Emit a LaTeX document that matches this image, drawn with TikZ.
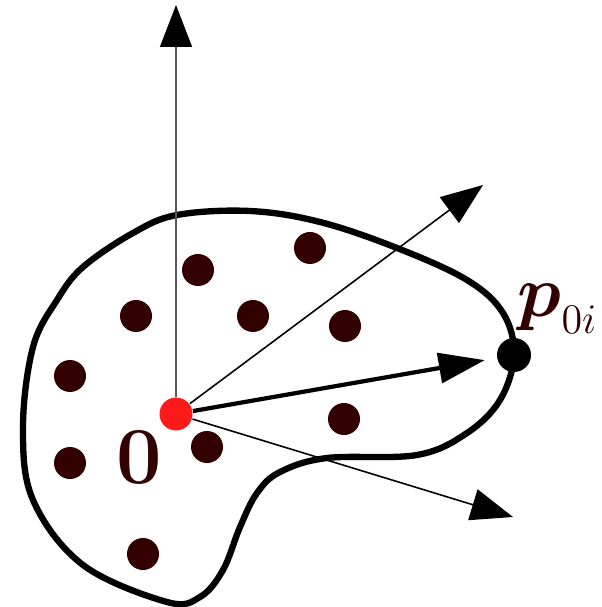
\documentclass[tikz,border=0pt]{standalone}
\usepackage{tikz}
\usetikzlibrary{positioning,arrows.meta}
\usepackage{xcolor}
\usepackage{amsmath,amssymb}
\definecolor{darkmaroon}{RGB}{51,0,0}
\definecolor{originred}{RGB}{255,26,26}

\tikzset{
  pointdot/.style={circle,fill=darkmaroon,inner sep=0pt,minimum size=0.32cm},
  axisarrow/.style={line width=0.45pt,-{Triangle[length=0.42cm,width=0.32cm,color=black]}},
  mainarrow/.style={line width=1.2pt,-{Triangle[length=0.46cm,width=0.3cm]}}
}

\begin{document}
\begin{tikzpicture}
    \useasboundingbox (0,0) rectangle (6.01,-6.07);
    % outline of the body
    \draw[line width=1.8pt] plot[smooth cycle,tension=0.6] coordinates {
      (5.14,-3.55) (5.03,-3.13) (4.67,-2.80) (3.97,-2.48) (3.20,-2.22)
      (2.50,-2.11) (1.77,-2.15) (1.33,-2.33) (0.83,-2.67) (0.57,-3.00)
      (0.33,-3.47) (0.23,-4.27) (0.33,-5.00) (0.83,-5.65) (1.67,-6.02)
      (2.00,-5.97) (2.23,-5.70) (2.40,-5.27) (2.57,-4.93) (2.80,-4.72)
      (3.27,-4.58) (4.17,-4.55) (4.67,-4.33) (5.00,-4.00)};
    % points of the body
    \foreach \px/\py [count=\i] in {1.98/2.70, 3.10/2.48, 1.36/3.16, 2.53/3.16,
        3.45/3.26, 0.70/3.76, 3.44/4.19, 0.70/4.63, 2.07/4.47, 1.43/5.54}
      \node[pointdot] (d\i) at (\px,-\py) {};
    \node[circle,fill=originred,inner sep=0pt,minimum size=0.33cm] (o) at (1.76,-4.14) {};
    \node[circle,fill=black,inner sep=0pt,minimum size=0.34cm] (p0i) at (5.14,-3.55) {};
    \coordinate (ztip) at (1.76,-0.05);
    \coordinate (ytip) at (4.83,-1.85);
    \coordinate (xtip) at (5.13,-5.17);
    \draw[axisarrow,draw=black!65] (o) -- (ztip);
    \draw[axisarrow] (o) -- (ytip);
    \draw[axisarrow] (o) -- (xtip);
    \draw[mainarrow,shorten >=0.12cm] (o) -- (p0i);
    % labels
    \node[text=darkmaroon,font=\fontsize{23}{23}\selectfont\bfseries] (olabel) at (1.39,-4.57) {0};
    \node[text=darkmaroon,font=\fontsize{20}{20}\selectfont,anchor=base west,inner sep=0pt]
      (plabel) at (5.17,-3.17) {$\boldsymbol{p}_{\mbox{\fontsize{12}{12}\selectfont$0i$}}$};
\end{tikzpicture}
\end{document}
